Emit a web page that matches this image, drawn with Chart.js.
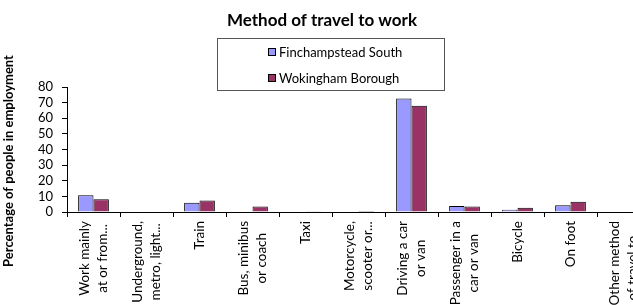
<!DOCTYPE html>
<html>
<head>
<meta charset="utf-8">
<script src="https://cdn.jsdelivr.net/npm/chart.js@4"></script>
<style>
html,body{margin:0;padding:0;background:#fff;overflow:hidden;}
#wrap{width:633px;height:305px;overflow:hidden;position:relative;}
canvas{display:block;}
</style>
</head>
<body>
<div id="wrap"><canvas id="c" width="680" height="340"></canvas></div>
<script>
const categories = [
  ["Work mainly","at or from..."],
  ["Underground,","metro, light..."],
  ["Train"],
  ["Bus, minibus","or coach"],
  ["Taxi"],
  ["Motorcycle,","scooter or..."],
  ["Driving a car","or van"],
  ["Passenger in a","car or van"],
  ["Bicycle"],
  ["On foot"],
  ["Other method","of travel to..."]
];
const seriesNames = ["Finchampstead South","Wokingham Borough"];
const finchampsteadSouth = [10.8, 0.0, 6.0, 0.3, 0.3, 0.4, 72.7, 3.9, 1.5, 4.3, 0.4];
const wokinghamBorough   = [8.2, 0.3, 7.3, 3.5, 0.2, 0.6, 68.0, 3.6, 2.8, 6.5, 0.3];
const yTicks = [0,10,20,30,40,50,60,70,80];
const chartTitle = "Method of travel to work";
const yTitle = "Percentage of people in employment";

const FONT = "Lato, 'Liberation Sans', sans-serif";
const colors = ["#9999FF","#993366"];
const CANVAS_H = 340;
const AREA_BOTTOM = 212;

const overlay = {
  id: 'overlay',
  afterDraw(chart) {
    const ctx = chart.ctx;
    ctx.save();
    ctx.fillStyle = '#000';
    ctx.font = "bold 17px " + FONT;
    ctx.textAlign = 'center';
    ctx.textBaseline = 'middle';
    ctx.fillText(chartTitle, 322, 21);
    ctx.strokeStyle = '#555';
    ctx.lineWidth = 1;
    ctx.strokeRect(217.5, 38.5, 227, 52);
    ctx.font = "13px " + FONT;
    ctx.textAlign = 'left';
    const ly = [52, 78];
    chart.data.datasets.forEach((ds, i) => {
      ctx.fillStyle = ds.backgroundColor;
      ctx.fillRect(268, ly[i] - 4, 8, 8);
      ctx.strokeStyle = '#000';
      ctx.strokeRect(268.5, ly[i] - 3.5, 7, 7);
      ctx.fillStyle = '#000';
      ctx.fillText(ds.label, 279, ly[i] + 1);
    });
    ctx.save();
    ctx.translate(9, 161);
    ctx.rotate(-Math.PI / 2);
    ctx.font = "bold 13px " + FONT;
    ctx.textAlign = 'center';
    ctx.fillText(yTitle, 0, 0);
    ctx.restore();
    const xs = chart.scales.x;
    ctx.font = "13.5px " + FONT;
    const spacing = 18;
    const top = 221;
    chart.data.labels.forEach((lab, i) => {
      const lines = Array.isArray(lab) ? lab : [lab];
      const cx = xs.getPixelForValue(i);
      let maxW = 0;
      lines.forEach(l => { maxW = Math.max(maxW, ctx.measureText(l).width); });
      const cy = top + maxW / 2;
      lines.forEach((l, j) => {
        const x = cx + (j - (lines.length - 1) / 2) * spacing;
        ctx.save();
        ctx.translate(x, cy);
        ctx.rotate(-Math.PI / 2);
        ctx.textAlign = 'center';
        ctx.textBaseline = 'middle';
        ctx.fillStyle = '#000';
        ctx.fillText(l, 0, 0);
        ctx.restore();
      });
    });
    ctx.restore();
  }
};

new Chart(document.getElementById('c'), {
  type: 'bar',
  data: {
    labels: categories,
    datasets: [
      { label: seriesNames[0], data: finchampsteadSouth, backgroundColor: colors[0], borderColor: '#000', borderWidth: 1, categoryPercentage: 0.58, barPercentage: 1.0 },
      { label: seriesNames[1], data: wokinghamBorough, backgroundColor: colors[1], borderColor: '#000', borderWidth: 1, categoryPercentage: 0.58, barPercentage: 1.0 }
    ]
  },
  options: {
    responsive: false,
    animation: false,
    layout: { padding: { left: 0, top: 87, right: 30, bottom: 0 } },
    plugins: { legend: { display: false }, title: { display: false }, tooltip: { enabled: false } },
    scales: {
      x: {
        grid: { display: true, drawOnChartArea: false, drawTicks: true, tickLength: 5, color: '#000', offset: true },
        border: { display: true, color: '#000' },
        ticks: { display: false },
        afterFit(s) { s.height = CANVAS_H - AREA_BOTTOM; }
      },
      y: {
        min: yTicks[0], max: yTicks[yTicks.length - 1],
        grid: { display: true, drawOnChartArea: false, drawTicks: true, tickLength: 5, color: '#000' },
        border: { display: true, color: '#000' },
        ticks: { color: '#000', font: { family: FONT, size: 13 }, padding: 9, stepSize: 10, autoSkip: false },
        afterFit(s) { s.width = 67; }
      }
    }
  },
  plugins: [overlay]
});
</script>
</body>
</html>
